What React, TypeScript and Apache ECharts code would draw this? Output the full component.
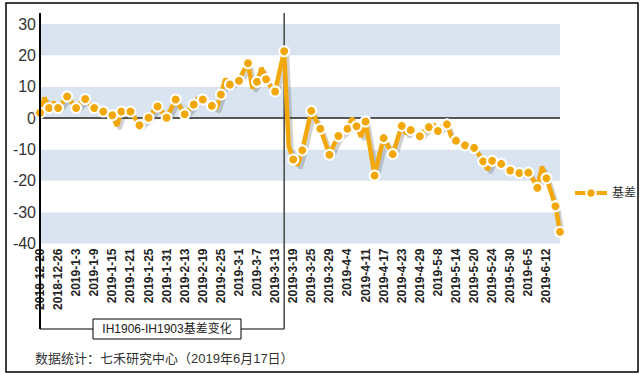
import React, { useEffect, useRef } from "react";
import * as echarts from "echarts";

const FONT = '"Liberation Sans", Arial, "Noto Sans CJK SC", sans-serif';

const dates: string[] = [
  "2018-12-20", "2018-12-21", "2018-12-24", "2018-12-25", "2018-12-26", "2018-12-27", "2018-12-28",
  "2019-1-2", "2019-1-3", "2019-1-4", "2019-1-7", "2019-1-8", "2019-1-9", "2019-1-10", "2019-1-11",
  "2019-1-14", "2019-1-15", "2019-1-16", "2019-1-17", "2019-1-18", "2019-1-21", "2019-1-22", "2019-1-23",
  "2019-1-24", "2019-1-25", "2019-1-28", "2019-1-29", "2019-1-30", "2019-1-31",
  "2019-2-1", "2019-2-11", "2019-2-12", "2019-2-13", "2019-2-14", "2019-2-15", "2019-2-18", "2019-2-19",
  "2019-2-20", "2019-2-21", "2019-2-22", "2019-2-25", "2019-2-26", "2019-2-27", "2019-2-28",
  "2019-3-1", "2019-3-4", "2019-3-5", "2019-3-6", "2019-3-7", "2019-3-8", "2019-3-11", "2019-3-12",
  "2019-3-13", "2019-3-14", "2019-3-15", "2019-3-18", "2019-3-19", "2019-3-20", "2019-3-21", "2019-3-22",
  "2019-3-25", "2019-3-26", "2019-3-27", "2019-3-28", "2019-3-29",
  "2019-4-1", "2019-4-2", "2019-4-3", "2019-4-4", "2019-4-8", "2019-4-9", "2019-4-10", "2019-4-11",
  "2019-4-12", "2019-4-15", "2019-4-16", "2019-4-17", "2019-4-18", "2019-4-19", "2019-4-22", "2019-4-23",
  "2019-4-24", "2019-4-25", "2019-4-26", "2019-4-29", "2019-4-30",
  "2019-5-6", "2019-5-7", "2019-5-8", "2019-5-9", "2019-5-10", "2019-5-13", "2019-5-14", "2019-5-15",
  "2019-5-16", "2019-5-17", "2019-5-20", "2019-5-21", "2019-5-22", "2019-5-23", "2019-5-24", "2019-5-27",
  "2019-5-28", "2019-5-29", "2019-5-30", "2019-5-31",
  "2019-6-3", "2019-6-4", "2019-6-5", "2019-6-6", "2019-6-10", "2019-6-11", "2019-6-12", "2019-6-13",
  "2019-6-14", "2019-6-17",
];

const basis: number[] = [
  1.7, 6.5, 3.2, 5, 3.2, 5, 6.9, 5, 3.2, 4.8,
  6.1, 4.5, 3.2, 2.6, 2.1, 1.5, 0.9, -2.5, 2.1, 1.5,
  2.1, 0, -2.3, -1, 0.1, 2, 3.7, 2, 0.1, 3,
  5.9, 3.5, 1.2, 2.8, 4.3, 6.4, 5.9, 5, 3.9, 3,
  7.5, 12.5, 10.7, 11.5, 11.9, 15, 17.5, 9.5, 11.6, 16,
  12.4, 10, 8.5, 15, 21.3, -9, -13.2, -15, -10.3, -4,
  2.3, -0.5, -3.4, -7.5, -11.7, -8.5, -5.7, -4.5, -3.4, 0,
  -2.6, -6, -1.1, -9.7, -18.3, -12, -6.4, -9, -11.5, -7,
  -2.5, -5, -3.8, -4.5, -5.8, -4, -2.9, -2, -4.1, -2.5,
  -2.0, -6, -7.2, -8, -8.7, -9, -9.5, -11.5, -13.8, -16.5,
  -13.6, -14, -14.6, -15.5, -16.7, -17, -17.5, -17.5, -17.4, -19.5,
  -22.2, -15.5, -19.2, -23.5, -28.1, -36.3,
];

const yTicks = { min: -40, max: 30, interval: 10 };
const seriesName = "基差";
const markerDate = "2019-3-15";
const boxTitle = "IH1906-IH1903基差变化";
const sourceText = "数据统计：七禾研究中心（2019年6月17日）";

const ORANGE = "#F2A80A";

export default function App() {
  const ref = useRef<HTMLDivElement>(null);
  useEffect(() => {
    if (!ref.current) return;
    const chart = echarts.init(ref.current, null, { renderer: "svg" });
    const last = basis.length - 1;
    const gridMain = { left: 40, right: 84, top: 24, bottom: 131.5 };
    const off = 3;
    chart.setOption({
      animation: false,
      textStyle: { fontFamily: FONT },
      grid: [
        gridMain,
        {
          left: gridMain.left + off,
          right: gridMain.right - off,
          top: gridMain.top + off,
          bottom: gridMain.bottom - off,
        },
      ],
      legend: {
        data: [seriesName],
        orient: "vertical",
        left: 568,
        top: 182,
        itemWidth: 32,
        itemHeight: 12,
        itemGap: 5,
        lineStyle: { width: 4 },
        textStyle: { fontSize: 12, color: "#333", fontFamily: FONT },
      },
      xAxis: [
        {
          type: "category",
          data: dates,
          boundaryGap: false,
          axisLine: { show: false },
          axisTick: { show: false },
          splitLine: { show: false },
          axisLabel: {
            interval: 3,
            rotate: 90,
            fontSize: 12,
            fontWeight: "bold",
            color: "#222",
            margin: 5,
            fontFamily: FONT,
          },
        },
        {
          type: "category",
          gridIndex: 1,
          data: dates,
          boundaryGap: false,
          show: false,
        },
      ],
      yAxis: [
        {
          type: "value",
          min: yTicks.min,
          max: yTicks.max,
          interval: yTicks.interval,
          axisLine: { show: false },
          axisTick: { show: false },
          splitLine: { show: false },
          splitArea: { show: true, areaStyle: { color: ["#D9E4F0", "#FFFFFF"] } },
          axisLabel: { fontSize: 16, color: "#333", margin: 4, fontFamily: FONT },
        },
        {
          type: "value",
          gridIndex: 1,
          min: yTicks.min,
          max: yTicks.max,
          interval: yTicks.interval,
          show: false,
          splitLine: { show: false },
        },
      ],
      series: [
        {
          name: "shadow",
          type: "line",
          xAxisIndex: 1,
          yAxisIndex: 1,
          data: basis,
          showSymbol: false,
          silent: true,
          lineStyle: { color: "rgba(90,90,90,0.28)", width: 4 },
          z: 2,
        },
        {
          name: seriesName,
          type: "line",
          data: basis,
          showSymbol: true,
          showAllSymbol: true,
          symbol: "circle",
          symbolSize: (_v: any, p: any) =>
            p.dataIndex % 2 === 0 || p.dataIndex === last ? 10 : 0,
          lineStyle: { color: ORANGE, width: 4.5 },
          itemStyle: { color: ORANGE, borderColor: "#fff", borderWidth: 2 },
          z: 3,
          markLine: {
            silent: true,
            symbol: ["none", "none"],
            label: { show: false },
            lineStyle: { color: "#555", width: 2, type: "solid" },
            data: [{ yAxis: 0 }],
            z: 1,
          },
        },
      ],
    });

    const x0 = chart.convertToPixel({ xAxisIndex: 0 }, 0) as number;
    const xm = chart.convertToPixel({ xAxisIndex: 0 }, dates.indexOf(markerDate)) as number;
    const topY = 13;
    const bracketY = 329;
    const boxL = 93;
    const boxR = 241;
    chart.setOption({
      graphic: [
        {
          type: "rect",
          shape: { x: 6, y: 3, width: 632, height: 369 },
          style: { fill: "none", stroke: "#000", lineWidth: 1.5 },
          silent: true,
        },
        {
          type: "line",
          shape: { x1: x0, y1: topY, x2: x0, y2: bracketY },
          style: { stroke: "#000", lineWidth: 2 },
          z: 10,
        },
        {
          type: "line",
          shape: { x1: xm, y1: topY, x2: xm, y2: bracketY },
          style: { stroke: "#444", lineWidth: 1.5 },
          z: 1,
        },
        {
          type: "line",
          shape: { x1: x0, y1: bracketY, x2: boxL, y2: bracketY },
          style: { stroke: "#000", lineWidth: 1.2 },
        },
        {
          type: "line",
          shape: { x1: boxR, y1: bracketY, x2: xm, y2: bracketY },
          style: { stroke: "#000", lineWidth: 1.2 },
        },
        {
          type: "rect",
          shape: { x: boxL, y: 319, width: boxR - boxL, height: 20 },
          style: { fill: "#fff", stroke: "#000", lineWidth: 1 },
        },
        {
          type: "text",
          x: (boxL + boxR) / 2,
          y: 329,
          style: {
            text: boxTitle,
            fontSize: 12,
            fill: "#222",
            fontFamily: FONT,
            textAlign: "center",
            textVerticalAlign: "middle",
          },
        },
        {
          type: "text",
          x: 35,
          y: 358,
          style: {
            text: sourceText,
            fontSize: 13,
            fill: "#333",
            fontFamily: FONT,
            textAlign: "left",
            textVerticalAlign: "middle",
          },
        },
      ],
    });
    return () => chart.dispose();
  }, []);
  return (
    <div
      ref={ref}
      style={{ position: "fixed", left: 0, top: 0, width: 644, height: 375, background: "#fff" }}
    />
  );
}
